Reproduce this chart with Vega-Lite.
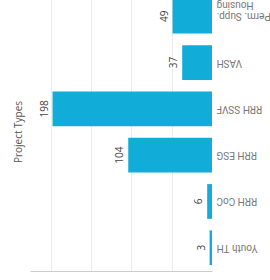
{
  "$schema": "https://vega.github.io/schema/vega-lite/v6.json",
  "autosize": "none",
  "width": 182,
  "height": 278,
  "padding": {"left": 30, "top": -7, "right": 58, "bottom": 9},
  "background": "white",
  "title": {
    "text": "Project Types",
    "orient": "left",
    "anchor": "middle",
    "font": "Open Sans",
    "fontSize": 10,
    "fontWeight": "normal",
    "color": "#555555",
    "offset": 6
  },
  "data": {
    "values": [
      {"type": "Perm. Supp. Housing", "count": 49},
      {"type": "VASH", "count": 37},
      {"type": "RRH SSVF", "count": 198},
      {"type": "RRH ESG", "count": 104},
      {"type": "RRH CoC", "count": 6},
      {"type": "Youth TH", "count": 3}
    ]
  },
  "encoding": {
    "y": {
      "field": "type",
      "type": "nominal",
      "sort": null,
      "scale": {"paddingInner": 0.25, "paddingOuter": 0.127},
      "axis": {
        "orient": "right",
        "title": null,
        "domain": false,
        "ticks": false,
        "labelAngle": 180,
        "labelAlign": "right",
        "labelBaseline": "middle",
        "labelPadding": 4,
        "labelFont": "Roboto",
        "labelFontSize": 10,
        "labelLineHeight": 11,
        "labelColor": "#777777",
        "labelOverlap": false,
        "labelBound": false,
        "labelExpr": "datum.label == 'Perm. Supp. Housing' ? ['Perm. Supp.', 'Housing'] : datum.label"
      }
    },
    "x": {
      "field": "count",
      "type": "quantitative",
      "scale": {"domain": [0, 226], "reverse": true, "nice": false},
      "axis": {
        "title": null,
        "values": [50, 100, 150, 200],
        "labels": false,
        "ticks": false,
        "domain": true,
        "domainColor": "#cccccc",
        "grid": true,
        "gridColor": "#ebebeb"
      }
    }
  },
  "layer": [
    {"mark": {"type": "bar", "color": "#12ACD8"}},
    {
      "mark": {
        "type": "text",
        "angle": 270,
        "align": "center",
        "baseline": "alphabetic",
        "dy": -5,
        "font": "Open Sans",
        "fontSize": 10,
        "color": "#444444"
      },
      "encoding": {"text": {"field": "count", "type": "quantitative"}}
    }
  ],
  "config": {"view": {"stroke": null}}
}
